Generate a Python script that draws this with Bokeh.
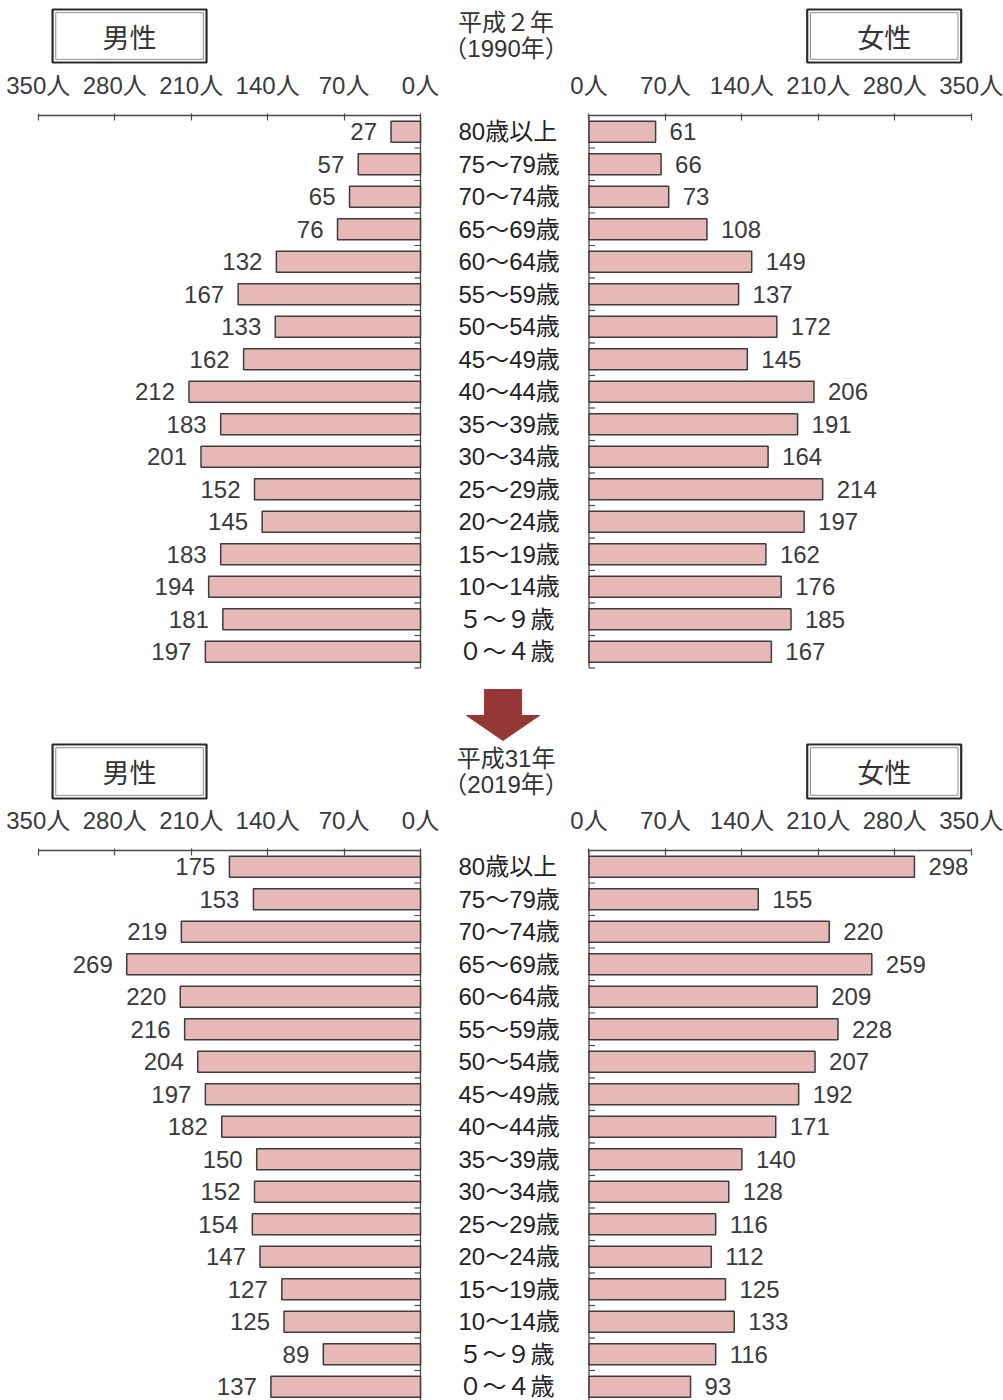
from bokeh.plotting import figure
from bokeh.layouts import column
from bokeh.models import Range1d, LinearAxis, FixedTicker, CustomJSTickFormatter
from bokeh.core.properties import value
from bokeh.embed import file_html
from bokeh.resources import INLINE

# ---------------------------------------------------------------- data
ages = ["80歳以上", "75～79歳", "70～74歳", "65～69歳", "60～64歳", "55～59歳",
        "50～54歳", "45～49歳", "40～44歳", "35～39歳", "30～34歳", "25～29歳",
        "20～24歳", "15～19歳", "10～14歳", "５～９歳", "０～４歳"]
tick_values = [0, 70, 140, 210, 280, 350]

male_1990 = [27, 57, 65, 76, 132, 167, 133, 162, 212, 183, 201, 152, 145, 183, 194, 181, 197]
female_1990 = [61, 66, 73, 108, 149, 137, 172, 145, 206, 191, 164, 214, 197, 162, 176, 185, 167]
male_2019 = [175, 153, 219, 269, 220, 216, 204, 197, 182, 150, 152, 154, 147, 127, 125, 89, 137]
female_2019 = [298, 155, 220, 259, 209, 228, 207, 192, 171, 140, 128, 116, 112, 125, 133, 116, 93]

title_1990 = ["平成２年", "（1990年）"]
title_2019 = ["平成31年", "（2019年）"]
male_label = "男性"
female_label = "女性"

# ---------------------------------------------------------------- styling / layout
W = 1003
PX = 1.092            # pixels per person on the horizontal axes
CENTER = 504.25       # pixel x of the centre line
GAP = 77.15           # half width of the central label column (person units)
ROW = 32.5            # pixels per age row
BAR_H = 0.65
X_RANGE = (-CENTER / PX, (W - CENTER) / PX)
BORDER_TOP = 47       # room above each pyramid for its value axis

NUM_FONT = "'Liberation Sans', 'Noto Sans CJK JP', sans-serif"
CJK_FONT = "'Noto Sans CJK JP', sans-serif"
FONT_SIZE = "24px"
BAR_FILL = "#e6b8b7"
BAR_LINE = "#3d3d3d"
AXIS_COLOR = "#4a4a4a"
TEXT_GREY = "#3a3a3a"
ARROW_COLOR = "#953735"

AGE_X = -42.4          # left edge of the age-group labels
BOX_MALE = (-414.1, -273.1)
BOX_FEMALE = (277.0, 418.0)
TITLE_X = 1.2
ARROW_X = -1.6


def header(height, box_top, box_bottom, title_lines, title_ys, arrow_ys=None):
    """Strip above a pyramid: the two sex boxes, the year title and
    (optionally) the arrow pointing down from the previous pyramid."""
    p = figure(width=W, height=height, x_range=Range1d(*X_RANGE),
               y_range=Range1d(height, 0), x_axis_type=None, y_axis_type=None,
               toolbar_location=None, output_backend="svg", min_border=0,
               outline_line_color=None)
    for (l, r), txt in ((BOX_MALE, male_label), (BOX_FEMALE, female_label)):
        p.quad(left=[l], right=[r], top=[box_top], bottom=[box_bottom],
               fill_color="white", line_color="#2a2a2a", line_width=2.2)
        inset = 3.2 / PX
        p.quad(left=[l + inset], right=[r - inset], top=[box_top + 3.2],
               bottom=[box_bottom - 3.2], fill_color=None,
               line_color="#8a8a8a", line_width=1)
        p.text(x=[(l + r) / 2], y=[(box_top + box_bottom) / 2], text=[txt],
               text_align="center", text_baseline="middle",
               text_font=value(CJK_FONT), text_font_size="27px",
               text_color="#333333")
    p.text(x=[TITLE_X] * len(title_lines), y=title_ys, text=title_lines,
           text_align="center", text_baseline="middle",
           text_font=value(NUM_FONT), text_font_size=FONT_SIZE,
           text_color="#333333")
    if arrow_ys is not None:
        y0, y1, y2 = arrow_ys
        shaft, head = 17.0, 33.4
        p.patch(x=[ARROW_X - shaft, ARROW_X + shaft, ARROW_X + shaft, ARROW_X + head,
                   ARROW_X, ARROW_X - head, ARROW_X - shaft],
                y=[y0, y0, y1, y1, y2, y1, y1],
                fill_color=ARROW_COLOR, line_color=ARROW_COLOR, line_width=1)
    return p


def pyramid(male, female, frame_h):
    n = len(ages)
    top_pad = 2.0 / ROW
    p = figure(width=W, height=frame_h + BORDER_TOP,
               x_range=Range1d(*X_RANGE),
               y_range=Range1d((frame_h - 2.0) / ROW, -top_pad),
               x_axis_type=None, y_axis_type=None,
               toolbar_location=None, output_backend="svg",
               min_border=0, min_border_top=BORDER_TOP,
               outline_line_color=None)

    # shared top axis: male values to the left, female values to the right
    ticks = [-(GAP + v) for v in tick_values] + [GAP + v for v in tick_values]
    axis = LinearAxis(
        ticker=FixedTicker(ticks=ticks),
        formatter=CustomJSTickFormatter(args=dict(gap=GAP),
                                        code="return Math.round(Math.abs(tick) - gap) + '人'"),
        axis_line_color=None, major_tick_in=7, major_tick_out=0,
        major_tick_line_color=AXIS_COLOR, major_tick_line_width=1.2,
        minor_tick_line_color=None, major_label_standoff=15,
        major_label_text_font=NUM_FONT, major_label_text_font_size=FONT_SIZE,
        major_label_text_color=TEXT_GREY)
    p.add_layout(axis, "above")

    centers = [i + 0.5 for i in range(n)]
    edges = list(range(n + 1))
    top_val = tick_values[-1]
    tick_len = 6.0 / PX

    # axis lines drawn per side (left / right halves)
    for sgn in (-1, 1):
        p.segment(x0=[sgn * GAP], y0=[0], x1=[sgn * (GAP + top_val)], y1=[0],
                  line_color=AXIS_COLOR, line_width=1.3)
        p.segment(x0=[sgn * GAP], y0=[0], x1=[sgn * GAP], y1=[n],
                  line_color=AXIS_COLOR, line_width=1.3)
        p.segment(x0=[sgn * GAP] * len(edges), y0=edges,
                  x1=[sgn * (GAP + tick_len)] * len(edges), y1=edges,
                  line_color=AXIS_COLOR, line_width=1.2)

    # bars
    p.hbar(y=centers, left=[-(GAP + v) for v in male], right=-GAP, height=BAR_H,
           fill_color=BAR_FILL, line_color=BAR_LINE, line_width=1.5)
    p.hbar(y=centers, left=GAP, right=[GAP + v for v in female], height=BAR_H,
           fill_color=BAR_FILL, line_color=BAR_LINE, line_width=1.5)

    # value labels
    p.text(x=[-(GAP + v) for v in male], y=centers, text=[str(v) for v in male],
           x_offset=-14, text_align="right", text_baseline="middle",
           text_font=value(NUM_FONT), text_font_size=FONT_SIZE, text_color=TEXT_GREY)
    p.text(x=[GAP + v for v in female], y=centers, text=[str(v) for v in female],
           x_offset=14, text_align="left", text_baseline="middle",
           text_font=value(NUM_FONT), text_font_size=FONT_SIZE, text_color=TEXT_GREY)

    # age-group labels in the centre column
    p.text(x=[AGE_X] * n, y=centers, text=ages, text_align="left",
           text_baseline="middle", text_font=value(NUM_FONT),
           text_font_size=FONT_SIZE, text_color="#222222")
    return p


hdr1 = header(66, 9, 62, title_1990, [22, 48])
pyr1 = pyramid(male_1990, female_1990, frame_h=567)
hdr2 = header(121, 64, 118, title_2019, [78, 104], arrow_ys=(9, 35, 60))
pyr2 = pyramid(male_2019, female_2019, frame_h=552)

layout = column(hdr1, pyr1, hdr2, pyr2, spacing=0)

with open("out.html", "w") as f:
    f.write(file_html(layout, INLINE))
